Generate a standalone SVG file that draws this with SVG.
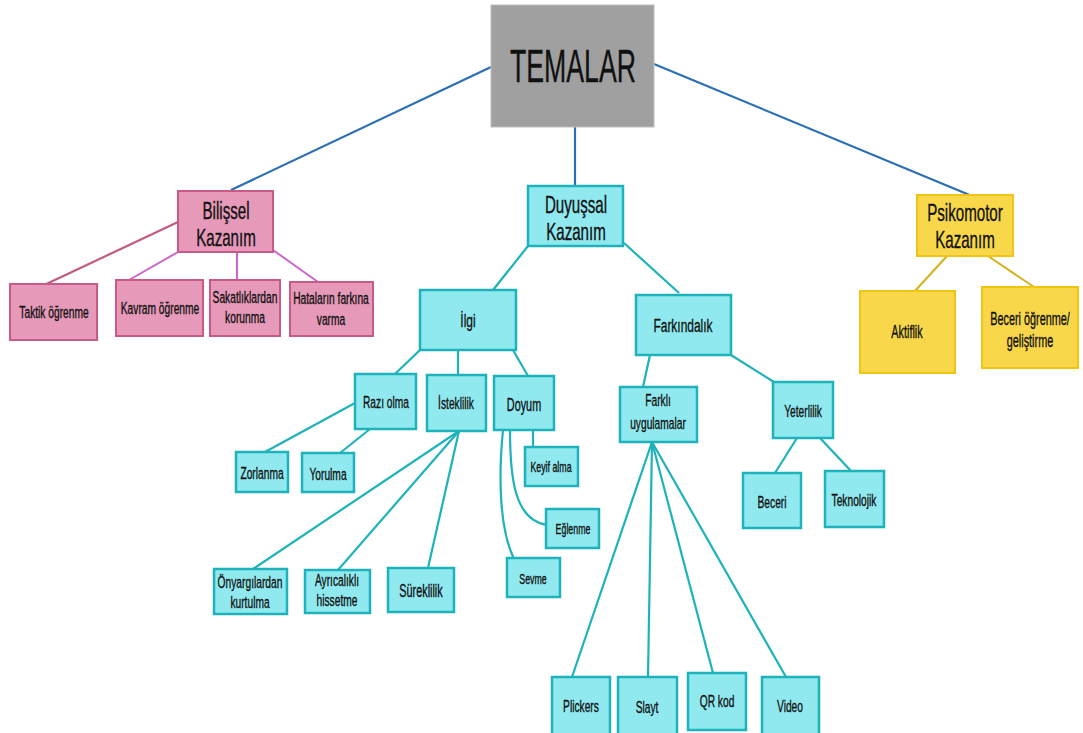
<svg xmlns="http://www.w3.org/2000/svg" width="1083" height="733" viewBox="0 0 1083 733">
<style>
text{font-family:"Liberation Sans",Arial,sans-serif;fill:#111;stroke:#111;stroke-width:0.35;text-anchor:middle}
.g{fill:#a0a0a0;stroke:#bdbdbd;stroke-width:1}
.p{fill:#e699b8;stroke:#c85a88;stroke-width:2}
.c{fill:#90e9ef;stroke:#1eb2ba;stroke-width:2.5}
.y{fill:#f8d84a;stroke:#f0c410;stroke-width:2}
.lb{stroke:#2a6fb5;stroke-width:2.2;fill:none}
.lp1{stroke:#c25a84;stroke-width:2.2;fill:none}
.lp2{stroke:#cc66cc;stroke-width:2;fill:none}
.lc{stroke:#1eb2ba;stroke-width:2.2;fill:none}
.ly{stroke:#d6b21a;stroke-width:2;fill:none}
.t42{font-size:46px}
.t21{font-size:24px}
.t16{font-size:19px}
.t14{font-size:17.5px}
.t13{font-size:16.5px}
.t11{font-size:14px}
</style>
<g id="connectors">
<line class="lb" x1="491" y1="67" x2="231" y2="190"/>
<line class="lb" x1="575" y1="127" x2="575" y2="187"/>
<line class="lb" x1="654" y1="64" x2="972" y2="196"/>
<line class="lp1" x1="178" y1="222" x2="40" y2="287"/>
<line class="lp2" x1="178" y1="252" x2="129" y2="280"/>
<line class="lp2" x1="237" y1="250" x2="237" y2="280"/>
<line class="lp2" x1="273" y1="250" x2="318" y2="282"/>
<line class="lc" x1="528" y1="246" x2="493" y2="290"/>
<line class="lc" x1="624" y1="243" x2="679" y2="293"/>
<line class="lc" x1="420" y1="350" x2="395" y2="374"/>
<line class="lc" x1="458" y1="350" x2="458" y2="375"/>
<line class="lc" x1="513" y1="350" x2="528" y2="376"/>
<line class="lc" x1="355" y1="403" x2="265" y2="452"/>
<line class="lc" x1="370" y1="429" x2="340" y2="453"/>
<line class="lc" x1="459" y1="431" x2="253" y2="569"/>
<line class="lc" x1="459" y1="431" x2="338" y2="570"/>
<line class="lc" x1="459" y1="431" x2="428" y2="568"/>
<line class="lc" x1="533" y1="430" x2="533" y2="448"/>
<path class="lc" d="M510 430 C510 480 515 520 547 525"/>
<path class="lc" d="M503 430 C498 480 500 530 514 559"/>
<line class="lc" x1="650" y1="355" x2="643" y2="387"/>
<line class="lc" x1="731" y1="355" x2="774" y2="382"/>
<line class="lc" x1="797" y1="438" x2="775" y2="473"/>
<line class="lc" x1="820" y1="438" x2="851" y2="471"/>
<line class="lc" x1="652" y1="442" x2="572" y2="677"/>
<line class="lc" x1="652" y1="442" x2="648" y2="677"/>
<line class="lc" x1="652" y1="442" x2="713" y2="673"/>
<line class="lc" x1="652" y1="442" x2="786" y2="677"/>
<line class="ly" x1="947" y1="256" x2="915" y2="291"/>
<line class="ly" x1="988" y1="256" x2="1034" y2="287"/>
</g>
<g id="temalar"><rect class="g" x="491" y="5" width="163" height="122"/><text class="t42" transform="translate(573,82) scale(0.58,1)">TEMALAR</text></g>
<g id="bilissel"><rect class="p" x="178" y="191" width="95" height="61"/><text class="t21" transform="translate(226,219) scale(0.63,1)">Bilişsel</text><text class="t21" transform="translate(226,246) scale(0.63,1)">Kazanım</text></g>
<g id="taktik"><rect class="p" x="10" y="284" width="87" height="56"/><text class="t13" transform="translate(54,318) scale(0.62,1)">Taktik öğrenme</text></g>
<g id="kavram"><rect class="p" x="116" y="280" width="87" height="56"/><text class="t13" transform="translate(160,314) scale(0.62,1)">Kavram öğrenme</text></g>
<g id="sakatlik"><rect class="p" x="210" y="280" width="70" height="56"/><text class="t13" transform="translate(245,303) scale(0.62,1)">Sakatlıklardan</text><text class="t13" transform="translate(245,323) scale(0.62,1)">korunma</text></g>
<g id="hatalar"><rect class="p" x="290" y="282" width="83" height="54"/><text class="t13" transform="translate(331,304) scale(0.62,1)">Hataların farkına</text><text class="t13" transform="translate(331,325) scale(0.62,1)">varma</text></g>
<g id="duyussal"><rect class="c" x="528" y="186" width="95" height="60"/><text class="t21" transform="translate(576,213) scale(0.63,1)">Duyuşsal</text><text class="t21" transform="translate(576,240) scale(0.63,1)">Kazanım</text></g>
<g id="ilgi"><rect class="c" x="420" y="290" width="96" height="60"/><text class="t16" transform="translate(468,327) scale(0.63,1)">İlgi</text></g>
<g id="farkindalik"><rect class="c" x="636" y="295" width="95" height="60"/><text class="t16" transform="translate(683,332) scale(0.63,1)">Farkındalık</text></g>
<g id="razi"><rect class="c" x="355" y="374" width="61" height="55"/><text class="t13" transform="translate(386,408) scale(0.62,1)">Razı olma</text></g>
<g id="isteklilik"><rect class="c" x="427" y="375" width="59" height="56"/><text class="t13" transform="translate(456,409) scale(0.62,1)">İsteklilik</text></g>
<g id="doyum"><rect class="c" x="494" y="376" width="60" height="54"/><text class="t14" transform="translate(524,411) scale(0.62,1)">Doyum</text></g>
<g id="zorlanma"><rect class="c" x="236" y="452" width="52" height="40"/><text class="t13" transform="translate(262,479) scale(0.62,1)">Zorlanma</text></g>
<g id="yorulma"><rect class="c" x="302" y="453" width="52" height="39"/><text class="t13" transform="translate(328,480) scale(0.62,1)">Yorulma</text></g>
<g id="keyif"><rect class="c" x="525" y="447" width="53" height="39"/><text class="t11" transform="translate(551,472) scale(0.63,1)">Keyif alma</text></g>
<g id="eglenme"><rect class="c" x="546" y="509" width="53" height="39"/><text class="t11" transform="translate(573,534) scale(0.63,1)">Eğlenme</text></g>
<g id="sevme"><rect class="c" x="507" y="558" width="53" height="39"/><text class="t11" transform="translate(533,584) scale(0.63,1)">Sevme</text></g>
<g id="onyargi"><rect class="c" x="214" y="569" width="73" height="45"/><text class="t13" transform="translate(250,588) scale(0.62,1)">Önyargılardan</text><text class="t13" transform="translate(250,608) scale(0.62,1)">kurtulma</text></g>
<g id="ayricalik"><rect class="c" x="305" y="570" width="65" height="43"/><text class="t13" transform="translate(337,586) scale(0.62,1)">Ayrıcalıklı</text><text class="t13" transform="translate(337,606) scale(0.62,1)">hissetme</text></g>
<g id="sureklilik"><rect class="c" x="388" y="568" width="66" height="44"/><text class="t14" transform="translate(421,597) scale(0.62,1)">Süreklilik</text></g>
<g id="farkli"><rect class="c" x="620" y="387" width="77" height="55"/><text class="t13" transform="translate(658,406) scale(0.62,1)">Farklı</text><text class="t13" transform="translate(658,429) scale(0.62,1)">uygulamalar</text></g>
<g id="yeterlilik"><rect class="c" x="773" y="382" width="60" height="56"/><text class="t13" transform="translate(803,417) scale(0.62,1)">Yeterlilik</text></g>
<g id="beceri"><rect class="c" x="743" y="473" width="58" height="55"/><text class="t13" transform="translate(772,508) scale(0.62,1)">Beceri</text></g>
<g id="teknolojik"><rect class="c" x="825" y="471" width="59" height="56"/><text class="t13" transform="translate(854,506) scale(0.62,1)">Teknolojik</text></g>
<g id="plickers"><rect class="c" x="552" y="677" width="58" height="58"/><text class="t13" transform="translate(581,712) scale(0.62,1)">Plickers</text></g>
<g id="slayt"><rect class="c" x="618" y="677" width="59" height="58"/><text class="t13" transform="translate(647,713) scale(0.62,1)">Slayt</text></g>
<g id="qrkod"><rect class="c" x="688" y="673" width="58" height="57"/><text class="t13" transform="translate(717,707) scale(0.62,1)">QR kod</text></g>
<g id="video"><rect class="c" x="762" y="677" width="57" height="58"/><text class="t13" transform="translate(790,712) scale(0.62,1)">Video</text></g>
<g id="psikomotor"><rect class="y" x="917" y="195" width="96" height="61"/><text class="t21" transform="translate(965,221) scale(0.63,1)">Psikomotor</text><text class="t21" transform="translate(965,248) scale(0.63,1)">Kazanım</text></g>
<g id="aktiflik"><rect class="y" x="860" y="291" width="95" height="82"/><text class="t14" transform="translate(907,338) scale(0.62,1)">Aktiflik</text></g>
<g id="beceriogrenme"><rect class="y" x="982" y="287" width="96" height="81"/><text class="t14" transform="translate(1030,325) scale(0.62,1)">Beceri öğrenme/</text><text class="t14" transform="translate(1030,347) scale(0.62,1)">geliştirme</text></g>
</svg>
